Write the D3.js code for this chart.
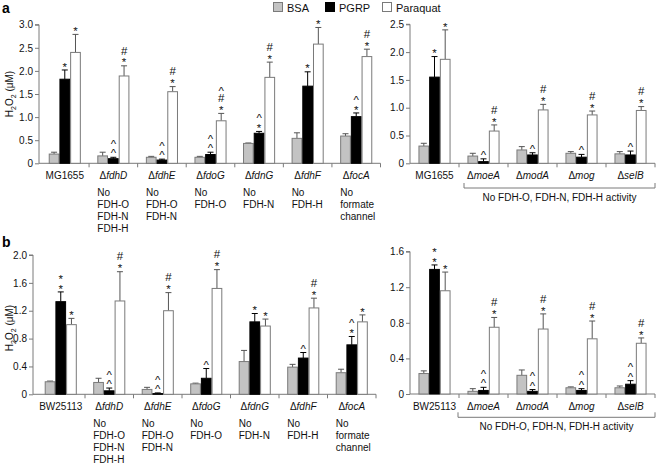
<!DOCTYPE html>
<html><head><meta charset="utf-8">
<script src="https://cdn.jsdelivr.net/npm/d3@7/dist/d3.min.js"></script>
<style>
html,body{margin:0;padding:0;background:#fff;}
svg{display:block;font-family:"Liberation Sans",Arial,sans-serif;}
</style></head>
<body>
<svg id="chart" width="656" height="464"></svg>
<script>
// ---------- DATA ----------
const seriesNames = ["BSA", "PGRP", "Paraquat"];

// Panel a, left
const aLeftCats = ["MG1655", "ΔfdhD", "ΔfdhE", "ΔfdoG", "ΔfdnG", "ΔfdhF", "ΔfocA"];
const aLeftBSA = [0.20, 0.16, 0.13, 0.13, 0.43, 0.54, 0.59];
const aLeftBSAErr = [0.04, 0.08, 0.02, 0.02, 0.01, 0.12, 0.05];
const aLeftPGRP = [1.82, 0.10, 0.07, 0.19, 0.65, 1.67, 1.01];
const aLeftPGRPErr = [0.20, 0.03, 0.02, 0.05, 0.04, 0.31, 0.08];
const aLeftPQ = [2.40, 1.89, 1.55, 0.92, 1.86, 2.58, 2.31];
const aLeftPQErr = [0.39, 0.22, 0.11, 0.16, 0.33, 0.36, 0.16];
const aLeftPGRPSig = ["*", "^^", "^^", "^^", "^*", "*", "^*"];
const aLeftPQSig = ["*", "#*", "#*", "^#*", "#*", "*", "#*"];
const aLeftTicks = [0, 0.5, 1.0, 1.5, 2.0, 2.5, 3.0];

// Panel a, right
const aRightCats = ["MG1655", "ΔmoeA", "ΔmodA", "Δmog", "ΔselB"];
const aRightBSA = [0.31, 0.13, 0.24, 0.18, 0.17];
const aRightBSAErr = [0.05, 0.05, 0.06, 0.03, 0.04];
const aRightPGRP = [1.55, 0.03, 0.15, 0.11, 0.15];
const aRightPGRPErr = [0.37, 0.05, 0.04, 0.05, 0.07];
const aRightPQ = [1.87, 0.58, 0.96, 0.87, 0.95];
const aRightPQErr = [0.53, 0.11, 0.10, 0.07, 0.07];
const aRightPGRPSig = ["*", "^", "^", "^", "^"];
const aRightPQSig = ["*", "#*", "#*", "#*", "#*"];
const aRightTicks = [0, 0.5, 1.0, 1.5, 2.0, 2.5];

// Panel b, left
const bLeftCats = ["BW25113", "ΔfdhD", "ΔfdhE", "ΔfdoG", "ΔfdnG", "ΔfdhF", "ΔfocA"];
const bLeftBSA = [0.18, 0.17, 0.07, 0.15, 0.47, 0.39, 0.31];
const bLeftBSAErr = [0.01, 0.06, 0.03, 0.01, 0.16, 0.04, 0.05];
const bLeftPGRP = [1.33, 0.05, 0.01, 0.23, 1.04, 0.52, 0.71];
const bLeftPGRPErr = [0.14, 0.04, 0.01, 0.14, 0.12, 0.08, 0.12];
const bLeftPQ = [1.00, 1.34, 1.20, 1.52, 0.98, 1.24, 1.04];
const bLeftPQErr = [0.09, 0.42, 0.26, 0.27, 0.10, 0.14, 0.10];
const bLeftPGRPSig = ["**", "^^", "^^", "^", "*", "^", "^*"];
const bLeftPQSig = ["*", "#*", "#*", "#*", "*", "#*", "*"];
const bLeftTicks = [0, 0.4, 0.8, 1.2, 1.6, 2.0];

// Panel b, right
const bRightCats = ["BW25113", "ΔmoeA", "ΔmodA", "Δmog", "ΔselB"];
const bRightBSA = [0.23, 0.03, 0.21, 0.07, 0.07];
const bRightBSAErr = [0.03, 0.03, 0.06, 0.01, 0.02];
const bRightPGRP = [1.40, 0.04, 0.03, 0.04, 0.11];
const bRightPGRPErr = [0.05, 0.035, 0.02, 0.02, 0.04];
const bRightPQ = [1.16, 0.75, 0.73, 0.62, 0.57];
const bRightPQErr = [0.21, 0.11, 0.17, 0.20, 0.06];
const bRightPGRPSig = ["**", "^^", "^^", "^^", "^^"];
const bRightPQSig = ["*", "#*", "#*", "#*", "#*"];
const bRightTicks = [0, 0.4, 0.8, 1.2, 1.6];

const leftSubLabels = [[], ["No", "FDH-O", "FDH-N", "FDH-H"], ["No", "FDH-O", "FDH-N"], ["No", "FDH-O"], ["No", "FDH-N"], ["No", "FDH-H"], ["No", "formate", "channel"]];
const bracketLabel = "No FDH-O, FDH-N, FDH-H activity";

// ---------- DRAW ----------
const svg = d3.select("#chart");
const AX = "#7a7a7a";
const fills = ["#c3c3c3", "#000000", "#ffffff"];
const strokes = ["#7a7a7a", "#000000", "#7a7a7a"];
const FS = 10;

function catLabel(g, name, x, y) {
  const t = g.append("text").attr("x", x).attr("y", y).attr("text-anchor", "middle")
    .attr("font-size", FS).attr("fill", "#111");
  if (name.startsWith("Δ")) {
    t.append("tspan").text("Δ");
    t.append("tspan").attr("font-style", "italic").text(name.slice(1));
  } else t.text(name);
}

// one text node per stack of significance marks, glyphs placed with x/y lists
function sigMarks(g, x, topY, str) {
  const chars = str.split("");
  const n = chars.length;
  const ys = chars.map((s, idx) => {
    const i = n - 1 - idx; // 0 = bottom
    const c = topY - 6 - i * 9.3;
    const off = s === "*" ? 6.6 : (s === "#" ? 4.0 : 6.0);
    return (c + off).toFixed(1);
  });
  g.append("text").attr("x", chars.map(() => x.toFixed(1)).join(" ")).attr("y", ys.join(" "))
    .attr("text-anchor", "middle").attr("fill", "#111").attr("font-size", 11.5).text(str);
}

function drawPanel(p) {
  const g = svg.append("g");
  const y = d3.scaleLinear().domain([0, p.ymax]).range([p.y0, p.yTop]);
  const x = d3.scaleBand().domain(p.cats).range([p.xr0, p.xr1]);
  const bw = 10.7;
  const yAxis = d3.axisLeft(y).tickValues(p.ticks).tickSize(4).tickPadding(2)
    .tickFormat(d => d === 0 ? "0" : d3.format(".1f")(d));
  const ya = g.append("g").attr("transform", `translate(${p.ax},0)`).call(yAxis);
  ya.select(".domain").attr("stroke", AX).attr("d", `M-4,${p.yTop}H0V${p.y0}`);
  ya.selectAll(".tick line").attr("stroke", AX);
  ya.selectAll(".tick text").attr("font-size", FS).attr("fill", "#111").attr("font-family", "Liberation Sans, Arial, sans-serif");
  g.append("line").attr("x1", p.ax).attr("x2", p.xr1).attr("y1", p.y0).attr("y2", p.y0).attr("stroke", AX);
  p.cats.forEach((c) => {
    const bx = x(c) + x.bandwidth();
    g.append("line").attr("x1", bx).attr("x2", bx).attr("y1", p.y0).attr("y2", p.y0 + 4).attr("stroke", AX);
  });
  const series = [[p.bsa, p.bsaErr], [p.pgrp, p.pgrpErr], [p.pq, p.pqErr]];
  p.cats.forEach((c, i) => {
    const cx = x(c) + x.bandwidth() / 2;
    series.forEach((s, k) => {
      const bx = cx - 1.5 * bw + k * bw;
      const v = s[0][i], e = s[1][i];
      const yt = y(v + e);
      if (e > 0) {
        g.append("line").attr("x1", bx + bw / 2).attr("x2", bx + bw / 2).attr("y1", y(v)).attr("y2", yt)
          .attr("stroke", k === 1 ? "#000" : "#555").attr("stroke-width", 1);
        g.append("line").attr("x1", bx + bw / 2 - 3).attr("x2", bx + bw / 2 + 3).attr("y1", yt).attr("y2", yt)
          .attr("stroke", k === 1 ? "#000" : "#555").attr("stroke-width", 1);
      }
      g.append("rect").attr("x", bx + 0.5).attr("y", y(v)).attr("width", bw - 1).attr("height", Math.max(0, p.y0 - y(v)))
        .attr("fill", fills[k]).attr("stroke", strokes[k]).attr("stroke-width", 1);
      const sig = k === 1 ? p.pgrpSig[i] : (k === 2 ? p.pqSig[i] : "");
      if (sig) sigMarks(g, bx + bw / 2, yt, sig);
    });
    catLabel(g, c, cx, p.labelY);
    if (p.sub && p.sub[i] && p.sub[i].length) {
      const t = g.append("text").attr("font-size", FS).attr("fill", "#111");
      p.sub[i].forEach((s, j) => {
        t.append("tspan").attr("x", cx - 16).attr("y", p.subY + j * 12.3).text(s);
      });
    }
  });
  if (p.title) {
    const t = g.append("text").attr("transform", `translate(${p.titleX},${p.titleY}) rotate(-90)`)
      .attr("text-anchor", "middle").attr("font-size", FS).attr("fill", "#111");
    t.append("tspan").text("H");
    t.append("tspan").attr("font-size", 7).attr("dy", 2.5).text("2");
    t.append("tspan").attr("dy", -2.5).text("O");
    t.append("tspan").attr("font-size", 7).attr("dy", 2.5).text("2");
    t.append("tspan").attr("dy", -2.5).text(" (μM)");
  }
  if (p.bracket) {
    const b = p.bracket;
    g.append("path").attr("d", `M${b.x0},${b.y - 5}V${b.y}H${b.x1}V${b.y - 5}`).attr("fill", "none").attr("stroke", AX);
    g.append("text").attr("x", (b.x0 + b.x1) / 2).attr("y", b.ty).attr("text-anchor", "middle").attr("font-size", FS).attr("fill", "#111").text(bracketLabel);
  }
}

drawPanel({cats: aLeftCats, bsa: aLeftBSA, bsaErr: aLeftBSAErr, pgrp: aLeftPGRP, pgrpErr: aLeftPGRPErr, pq: aLeftPQ, pqErr: aLeftPQErr,
  pgrpSig: aLeftPGRPSig, pqSig: aLeftPQSig, ticks: aLeftTicks, ymax: 3.0, y0: 163.3, yTop: 24.7, ax: 39, xr0: 40.5, xr1: 380.5,
  labelY: 178.5, sub: leftSubLabels, subY: 195.5, title: true, titleX: 13, titleY: 94});
drawPanel({cats: aRightCats, bsa: aRightBSA, bsaErr: aRightBSAErr, pgrp: aRightPGRP, pgrpErr: aRightPGRPErr, pq: aRightPQ, pqErr: aRightPQErr,
  pgrpSig: aRightPGRPSig, pqSig: aRightPQSig, ticks: aRightTicks, ymax: 2.5, y0: 163.3, yTop: 24.3, ax: 410, xr0: 410, xr1: 655,
  labelY: 178.5, bracket: {x0: 464, x1: 655, y: 188, ty: 201}});
drawPanel({cats: bLeftCats, bsa: bLeftBSA, bsaErr: bLeftBSAErr, pgrp: bLeftPGRP, pgrpErr: bLeftPGRPErr, pq: bLeftPQ, pqErr: bLeftPQErr,
  pgrpSig: bLeftPGRPSig, pqSig: bLeftPQSig, ticks: bLeftTicks, ymax: 2.0, y0: 394.3, yTop: 255, ax: 33, xr0: 36.5, xr1: 376,
  labelY: 409.5, sub: leftSubLabels, subY: 426.5, title: true, titleX: 13, titleY: 328});
drawPanel({cats: bRightCats, bsa: bRightBSA, bsaErr: bRightBSAErr, pgrp: bRightPGRP, pgrpErr: bRightPGRPErr, pq: bRightPQ, pqErr: bRightPQErr,
  pgrpSig: bRightPGRPSig, pqSig: bRightPQSig, ticks: bRightTicks, ymax: 1.6, y0: 394, yTop: 251.6, ax: 410, xr0: 410, xr1: 655,
  labelY: 409.5, bracket: {x0: 458, x1: 655, y: 417.3, ty: 429.5}});

svg.append("text").attr("x", 2).attr("y", 13).attr("font-size", 14).attr("font-weight", "bold").text("a");
svg.append("text").attr("x", 2).attr("y", 247).attr("font-size", 14).attr("font-weight", "bold").text("b");

const legX = [273, 325, 382];
const legend = svg.append("g");
seriesNames.forEach((n, k) => {
  legend.append("rect").attr("x", legX[k] + 0.5).attr("y", 2.5).attr("width", 9).attr("height", 9)
    .attr("fill", fills[k]).attr("stroke", strokes[k]);
  legend.append("text").attr("x", legX[k] + 14).attr("y", 11.5).attr("font-size", 11).attr("fill", "#111").text(n);
});
</script>
</body></html>
